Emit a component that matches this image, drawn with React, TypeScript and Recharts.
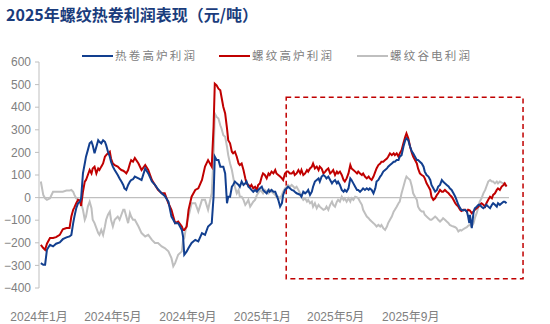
import React from 'react';
import { LineChart, Line, XAxis, YAxis, ReferenceLine, ReferenceArea } from 'recharts';

// day offset from 2024-01-01
const dayIndex = [
  3, 7, 10, 13, 18, 23, 28, 34, 39, 45, 50, 53, 56, 58, 61, 64, 67, 69, 72, 75, 77, 80, 83, 86, 88, 91, 94, 97, 99, 102, 105, 108, 110, 113, 116, 118, 121, 124, 129, 132, 135, 138, 140, 143, 146, 149, 151, 154, 157,
  163, 168, 174, 179, 185, 190, 195, 201, 206, 212, 217, 220, 223, 228, 234, 236, 238, 242, 245, 250, 256, 261, 267, 272, 277, 283, 286, 288, 291, 294, 297, 299, 302, 305, 308, 310, 313, 316,
  318, 321, 324, 327, 329, 332, 335, 338, 340, 343, 346, 348, 351, 354, 357, 359, 362, 365, 367, 370, 373, 376, 378, 381, 384, 387, 389, 392, 395, 398, 400, 403, 406, 408, 411, 414, 417, 419, 422, 425, 428, 430, 433, 436, 439, 441, 444, 447, 449, 452, 455, 458, 460, 463, 466, 469,
  471, 474, 477, 480, 482, 485, 488, 490, 493, 496, 499, 501, 504, 507, 510, 512, 515, 518, 521, 523, 526, 529, 531, 534, 537, 540, 542, 545, 548, 551, 553, 556, 559, 561, 564, 567, 570, 572, 575, 578, 581, 583, 586, 589, 591, 594, 597, 600, 602, 605, 608, 611, 613, 616, 619, 621, 624, 627,
  630, 632, 635, 638, 641, 643, 646, 649, 652, 654, 657, 660, 662, 665, 668, 671, 673, 676, 679, 682, 684, 687, 690, 692, 695, 698, 701, 703, 705, 706, 709, 712, 714, 717, 720, 722, 725, 728, 731, 733, 736, 739, 742, 744, 747, 750, 752, 755, 758, 761, 763, 766,
];

// 热卷高炉利润
const hrcBlastFurnace = [
  -290, -297, -297, -231, -209, -216, -204, -198, -184, -176, -172, -165, -113, -84, -47, -25, -18, -3, 107, 151, 181, 210, 240, 247, 232, 196, 225, 254, 247, 240, 254, 247, 232, 203, 181, 159, 137, 122, 100, 85, 71, 56, 41, 34, 56, 71, 78, 81, 93,
  85, 78, 129, 107, 71, 56, 37, 19, 7, -18, -84, -98, -113, -113, -143, -172, -253, -238, -223, -201, -187, -194, -157, -165, -128, -113, 4, 181, 166, 166, 137, 137, 137, 107, -25, 4, 4, 48,
  56, 71, 63, 56, 48, 71, 56, 63, 71, 48, 41, 34, 26, 34, 26, 34, 41, 48, 34, 26, 19, 34, 26, 34, 26, 26, 12, -10, -40, -25, 12, 34, 41, 48, 41, 34, 31, 26, 19, 16, 12, 4, 26, 19, 26, 34, 12, 26, 48, 71, 78, 85, 71, 93, 100, 93,
  85, 93, 78, 63, 71, 78, 63, 71, 56, 34, 26, 34, 26, 41, 85, 78, 63, 48, 34, 34, 26, 34, 41, 34, 41, 34, 41, 34, 19, 41, 71, 78, 93, 100, 115, 122, 129, 137, 144, 151, 159, 159, 166, 166, 181, 188, 225, 254, 262, 254, 225, 203, 196, 181, 166, 166, 159, 151,
  137, 115, 100, 93, 78, 56, 41, 26, 34, 49, 56, 78, 71, 63, 56, 49, 41, 34, 19, 4, -10, -32, -47, -54, -57, -54, -62, -84, -113, -76, -135, -62, -47, -40, -32, -32, -40, -47, -40, -32, -40, -47, -32, -25, -32, -40, -25, -32, -25, -18, -18, -25,
];

// 螺纹高炉利润
const rebarBlastFurnace = [
  -209, -223, -231, -204, -179, -179, -175, -165, -140, -135, -135, -84, -54, -43, -25, -10, -13, -37, 26, 71, 78, 100, 122, 107, 129, 137, 107, 129, 122, 137, 151, 181, 188, 196, 203, 173, 151, 144, 137, 129, 122, 119, 115, 107, 122, 151, 166, 159, 175,
  151, 122, 144, 122, 78, 56, 34, 19, 19, -25, -54, -84, -113, -106, -128, -143, -143, -128, -54, 4, 34, 41, 78, 137, 166, 137, 313, 504, 497, 482, 475, 445, 401, 372, 306, 254, 240, 203,
  196, 203, 181, 151, 144, 151, 122, 85, 63, 56, 48, 56, 41, 48, 34, 56, 63, 93, 107, 100, 85, 107, 100, 115, 107, 122, 107, 100, 93, 85, 78, 107, 115, 115, 107, 107, 115, 100, 107, 122, 107, 122, 100, 107, 122, 115, 129, 137, 151, 129, 137, 122, 137, 129, 107, 115,
  122, 129, 107, 115, 122, 100, 115, 107, 115, 100, 78, 71, 85, 107, 144, 129, 122, 115, 107, 115, 107, 100, 107, 93, 85, 93, 85, 78, 93, 115, 129, 144, 151, 159, 159, 166, 173, 181, 196, 188, 196, 188, 196, 181, 196, 210, 240, 269, 284, 262, 225, 196, 181, 166, 151, 129, 107, 100,
  95, 85, 63, 49, 34, 4, -10, -3, 12, 19, 34, 26, 26, 34, 26, 19, 12, 4, -10, -25, -32, -40, -54, -59, -54, -54, -62, -54, -56, -57, -69, -62, -54, -47, -40, -32, -25, -32, -40, -25, -10, 4, -3, 12, 19, 34, 41, 34, 49, 56, 63, 49,
];

// 螺纹谷电利润
const rebarValleyPowerEaf = [
  71, 12, -3, -10, -3, 26, 26, 26, 26, 31, 31, 34, 26, 12, -3, -10, -18, -25, -54, -98, -84, -40, -18, -47, -98, -113, -135, -157, -165, -143, -165, -128, -98, -76, -62, -98, -128, -98, -84, -98, -76, -54, -54, -84, -113, -69, -84, -98, -98,
  -128, -157, -172, -165, -187, -201, -201, -216, -223, -238, -268, -304, -290, -253, -238, -187, -179, -113, -84, -25, -25, -62, -10, -10, -54, 19, 181, 372, 357, 350, 320, 306, 276, 269, 225, 188, 151, 122,
  93, 48, 19, 34, 4, 4, -10, -32, -25, -10, -40, -32, -18, -10, 12, 19, 34, 26, 19, 34, 26, 19, 34, 26, 19, 12, 4, 4, -3, 12, 26, 41, 48, 56, 48, 56, 48, 41, 48, 34, 19, 4, -10, -3, -18, -10, -25, -18, -40, -25, -47, -32, -40, -47, -54, -50,
  -40, -54, -32, -18, -32, -40, -18, -10, -18, 4, -10, -3, -18, -3, -18, -3, -10, 4, 1, -3, -18, -32, -54, -69, -84, -91, -98, -106, -113, -121, -128, -121, -128, -121, -135, -143, -128, -113, -98, -84, -62, -54, -40, -25, -18, 19, 48, 78, 93, 85, 78, 48, 19, 4, -10, -40, -54, -62,
  -62, -76, -84, -91, -98, -98, -91, -84, -91, -98, -106, -98, -91, -98, -106, -113, -121, -125, -128, -131, -135, -150, -143, -146, -140, -135, -131, -125, -122, -121, -128, -113, -91, -69, -40, -18, -3, 19, 34, 49, 71, 78, 71, 71, 63, 71, 63, 71, 66, 63, 56, 49,
];

const xTickDays = [0, 121, 244, 366, 486, 609];
const xTickLabels = ['2024年1月', '2024年5月', '2024年9月', '2025年1月', '2025年5月', '2025年9月'];
const yTicks = [-400, -300, -200, -100, 0, 100, 200, 300, 400, 500, 600];

const seriesNames = ['热卷高炉利润', '螺纹高炉利润', '螺纹谷电利润'];
const seriesColors = ['#123F8F', '#C00000', '#BFBFBF'];

// highlighted window (days / values)
const highlightX = [405, 793];
const highlightY = [-359, 444];

const data = dayIndex.map((d, i) => ({
  day: d,
  hrc: hrcBlastFurnace[i],
  rebar: rebarBlastFurnace[i],
  eaf: rebarValleyPowerEaf[i],
}));

const tickFont = '"Liberation Sans", Arial, "Noto Sans CJK SC", sans-serif';
const cjkFont = '"Noto Sans CJK SC", "Noto Sans", sans-serif';

const fmtY = (v: number) => (v < 0 ? '\u2212' + Math.abs(v) : String(v));
const fmtX = (v: number) => {
  const i = xTickDays.indexOf(v);
  return i >= 0 ? xTickLabels[i] : '';
};

const legendPos = [
  { lineLeft: 82, textLeft: 115 },
  { lineLeft: 219, textLeft: 252 },
  { lineLeft: 357, textLeft: 390 },
];

export default function App() {
  return (
    <div style={{ position: 'absolute', left: 0, top: 0, width: 550, height: 324, background: '#fff' }}>
      <div
        style={{
          position: 'absolute',
          left: 6,
          top: 3,
          fontFamily: cjkFont,
          fontWeight: 700,
          fontSize: 16,
          lineHeight: '22px',
          color: '#1A3C7C',
          whiteSpace: 'nowrap',
        }}
      >
        2025年螺纹热卷利润表现（元/吨）
      </div>
      {seriesNames.map((name, i) => (
        <React.Fragment key={name}>
          <div
            style={{
              position: 'absolute',
              left: legendPos[i].lineLeft,
              top: 54.5,
              width: 31,
              height: 2,
              background: seriesColors[i],
            }}
          />
          <div
            style={{
              position: 'absolute',
              left: legendPos[i].textLeft,
              top: 47,
              fontFamily: cjkFont,
              fontSize: 11.5,
              letterSpacing: 2.2,
              lineHeight: '17px',
              color: '#808080',
              whiteSpace: 'nowrap',
            }}
          >
            {name}
          </div>
        </React.Fragment>
      ))}
      <LineChart
        width={550}
        height={324}
        data={data}
        margin={{ top: 62, right: 41, bottom: 0, left: 0 }}
        style={{ position: 'absolute', left: 0, top: 0 }}
      >
        <XAxis
          dataKey="day"
          type="number"
          domain={[0, 770]}
          ticks={xTickDays}
          tickFormatter={fmtX}
          axisLine={false}
          tickLine={false}
          tickSize={0}
          tickMargin={24}
          height={36}
          interval={0}
          tick={{ fill: '#808080', fontSize: 12, fontFamily: tickFont }}
        />
        <YAxis
          type="number"
          domain={[-400, 600]}
          ticks={yTicks}
          tickFormatter={fmtY}
          width={39}
          interval={0}
          tickSize={4}
          tickMargin={4}
          axisLine={{ stroke: '#BFBFBF', strokeWidth: 1 }}
          tickLine={{ stroke: '#BFBFBF', strokeWidth: 1 }}
          tick={{ fill: '#808080', fontSize: 12, fontFamily: tickFont }}
        />
        <ReferenceLine y={0} stroke="#BFBFBF" strokeWidth={1.2} ifOverflow="visible" />
        <Line dataKey="eaf" name={seriesNames[2]} stroke={seriesColors[2]} strokeWidth={2} dot={false} type="linear" isAnimationActive={false} />
        <Line dataKey="rebar" name={seriesNames[1]} stroke={seriesColors[1]} strokeWidth={2} dot={false} type="linear" isAnimationActive={false} />
        <Line dataKey="hrc" name={seriesNames[0]} stroke={seriesColors[0]} strokeWidth={2} dot={false} type="linear" isAnimationActive={false} />
        <ReferenceArea
          x1={highlightX[0]}
          x2={highlightX[1]}
          y1={highlightY[0]}
          y2={highlightY[1]}
          ifOverflow="visible"
          fill="none"
          fillOpacity={0}
          stroke="#C00000"
          strokeWidth={1.5}
          strokeDasharray="5 3.5"
        />
      </LineChart>
    </div>
  );
}
